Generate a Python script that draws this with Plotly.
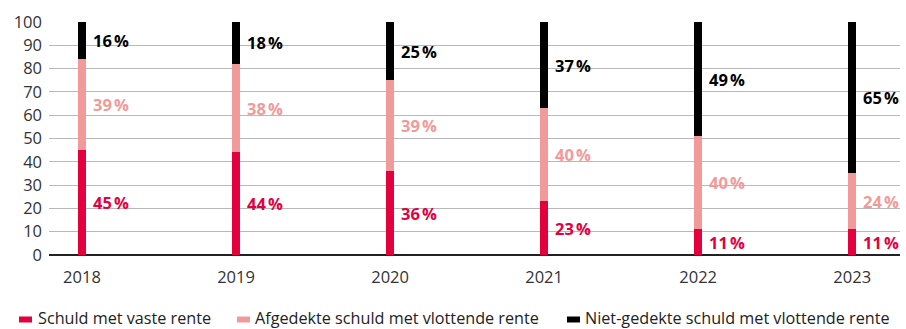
import plotly.graph_objects as go

# Share of debt by interest type, per year (percent)
years = ["2018", "2019", "2020", "2021", "2022", "2023"]
vaste_rente = [45, 44, 36, 23, 11, 11]
afgedekt_vlottend = [39, 38, 39, 40, 40, 24]
niet_gedekt_vlottend = [16, 18, 25, 37, 49, 65]

series_names = [
    "Schuld met vaste rente",
    "Afgedekte schuld met vlottende rente",
    "Niet-gedekte schuld met vlottende rente",
]
series_values = [vaste_rente, afgedekt_vlottend, niet_gedekt_vlottend]
series_colors = ["#E4003F", "#F29A9A", "#000000"]
y_ticks = [0, 10, 20, 30, 40, 50, 60, 70, 80, 90, 100]

W, H = 906, 329
M_L, M_R, M_T, M_B = 49, 6, 22, 74

TICK_FONT = dict(family="Open Sans, sans-serif", size=16.5, color="#333333")
LABEL_FONT_FAMILY = "Open Sans, sans-serif"
LEGEND_FONT = dict(family="Open Sans, sans-serif", size=16.2, color="#222222")

x_idx = list(range(len(years)))

fig = go.Figure()
for name, vals, col in zip(series_names, series_values, series_colors):
    fig.add_trace(go.Bar(
        x=x_idx, y=vals, name=name, marker=dict(color=col, line=dict(width=0)),
        width=0.052, showlegend=False, hoverinfo="skip",
    ))

# Value labels to the right of each bar, at the middle of each segment
base = [0] * len(years)
for vals, col in zip(series_values, series_colors):
    for i, v in enumerate(vals):
        fig.add_annotation(
            x=i, y=base[i] + v / 2, xref="x", yref="y",
            text=f"<b>{v}\u202f%</b>", showarrow=False,
            xanchor="left", yanchor="middle", xshift=9,
            font=dict(family=LABEL_FONT_FAMILY, size=16.5, color=col),
        )
        base[i] += v

# Custom legend below the plot
plot_w = W - M_L - M_R
plot_h = H - M_T - M_B


def px_x(px):
    return (px - M_L) / plot_w


def px_y(py):
    return (H - M_B - py) / plot_h


legend_sq_x = [19, 237, 567]
legend_text_x = [36, 253, 583]
sq_top, sq_bot, text_mid = 316.5, 322.5, 318
for name, col, sx, tx in zip(series_names, series_colors, legend_sq_x, legend_text_x):
    fig.add_shape(
        type="rect", xref="paper", yref="paper",
        x0=px_x(sx), x1=px_x(sx + 13), y0=px_y(sq_bot), y1=px_y(sq_top),
        fillcolor=col, line=dict(width=0),
    )
    fig.add_annotation(
        x=px_x(tx), y=px_y(text_mid), xref="paper", yref="paper",
        text=name, showarrow=False, xanchor="left", yanchor="middle",
        font=LEGEND_FONT,
    )

fig.update_layout(
    width=W, height=H,
    margin=dict(l=M_L, r=M_R, t=M_T, b=M_B, pad=0),
    barmode="stack",
    plot_bgcolor="white", paper_bgcolor="white",
    showlegend=False,
    xaxis=dict(
        range=[-0.214, 5.31], tickmode="array", tickvals=x_idx, ticktext=years,
        showgrid=False, zeroline=False, showline=False, ticks="",
        tickfont=TICK_FONT, ticklabelstandoff=10,
    ),
    yaxis=dict(
        range=[0, 100], tickmode="array", tickvals=y_ticks,
        showgrid=True, gridcolor="#B8B8B8", gridwidth=1,
        zeroline=True, zerolinecolor="#222222", zerolinewidth=2,
        showline=False, ticks="", tickfont=TICK_FONT, ticklabelstandoff=6,
    ),
)

fig.write_html("out.html")
